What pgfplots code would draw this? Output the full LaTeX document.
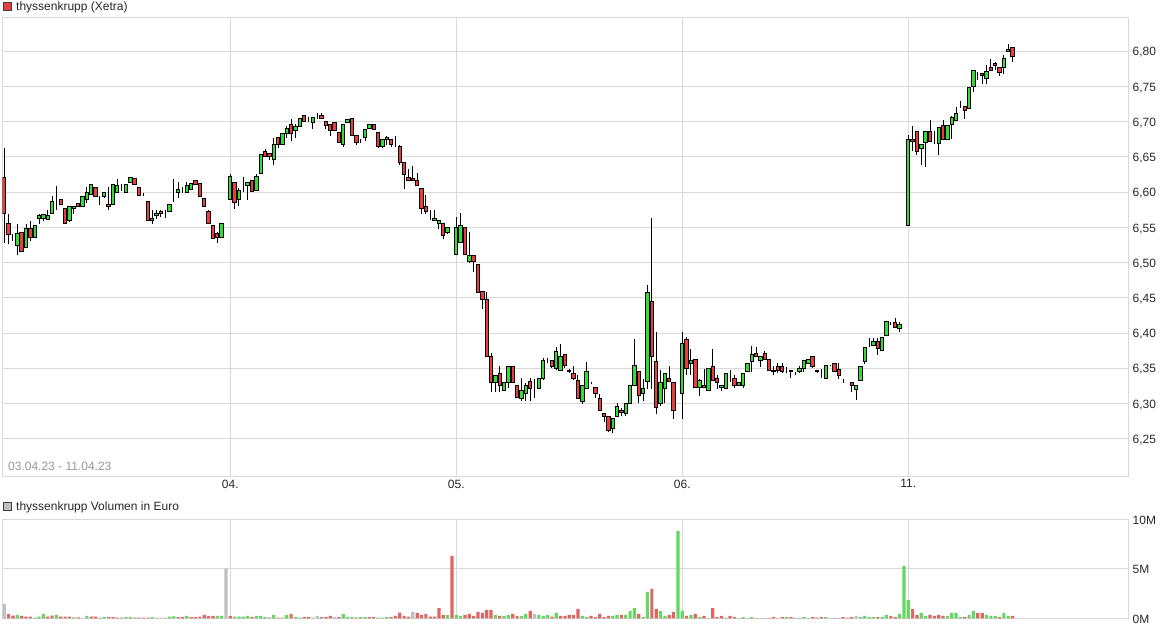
\documentclass[border=0pt]{standalone}
\usepackage{pgfplots}
\pgfplotsset{compat=1.18}
\usepackage{pgfplotstable}
\usepackage{fontspec}
\setmainfont{Liberation Sans}

\definecolor{cgreen}{RGB}{52,221,52}
\definecolor{cred}{RGB}{234,62,62}
\definecolor{vgreen}{RGB}{102,214,102}
\definecolor{vred}{RGB}{221,102,102}
\definecolor{vgray}{RGB}{192,192,192}
\definecolor{gridgray}{RGB}{217,217,217}
\definecolor{labelgray}{RGB}{40,40,40}
\definecolor{dategray}{RGB}{150,150,150}

% 10-minute candles, 52 per day (incl. closing auction)
\pgfplotstableread{
i O H L C
0 6.621 6.662 6.528 6.569
1 6.555 6.569 6.526 6.540
2 6.534 6.541 6.531 6.534
3 6.524 6.555 6.510 6.541
4 6.543 6.543 6.516 6.516
5 6.521 6.555 6.521 6.548
6 6.548 6.559 6.531 6.535
7 6.536 6.553 6.536 6.553
8 6.563 6.569 6.555 6.566
9 6.563 6.568 6.559 6.568
10 6.561 6.574 6.561 6.566
11 6.569 6.594 6.569 6.586
12 6.591 6.609 6.574 6.591
13 6.590 6.590 6.583 6.583
14 6.576 6.576 6.555 6.556
15 6.559 6.580 6.557 6.580
16 6.576 6.579 6.569 6.579
17 6.584 6.584 6.579 6.579
18 6.580 6.595 6.580 6.593
19 6.590 6.607 6.584 6.599
20 6.596 6.612 6.596 6.610
21 6.606 6.606 6.593 6.593
22 6.594 6.595 6.582 6.594
23 6.594 6.600 6.591 6.599
24 6.583 6.607 6.574 6.579
25 6.583 6.611 6.583 6.611
26 6.600 6.618 6.600 6.609
27 6.607 6.612 6.602 6.607
28 6.600 6.610 6.600 6.610
29 6.614 6.620 6.614 6.620
30 6.619 6.619 6.610 6.610
31 6.606 6.606 6.595 6.595
32 6.595 6.598 6.594 6.595
33 6.586 6.586 6.560 6.560
34 6.559 6.574 6.554 6.563
35 6.566 6.574 6.562 6.569
36 6.573 6.574 6.564 6.569
37 6.570 6.574 6.563 6.570
38 6.572 6.582 6.572 6.582
39 6.588 6.619 6.586 6.588
40 6.600 6.614 6.591 6.604
41 6.601 6.607 6.598 6.601
42 6.599 6.614 6.599 6.609
43 6.604 6.612 6.604 6.612
44 6.616 6.616 6.611 6.611
45 6.612 6.612 6.593 6.593
46 6.591 6.591 6.579 6.579
47 6.573 6.575 6.555 6.555
48 6.553 6.553 6.534 6.534
49 6.541 6.544 6.528 6.536
50 6.536 6.556 6.536 6.556
51 6.556 6.556 6.556 6.556
52 6.589 6.626 6.589 6.622
53 6.613 6.613 6.576 6.585
54 6.589 6.606 6.580 6.602
55 6.607 6.622 6.600 6.607
56 6.609 6.613 6.589 6.613
57 6.617 6.617 6.601 6.601
58 6.602 6.626 6.602 6.622
59 6.627 6.653 6.627 6.653
60 6.657 6.661 6.651 6.651
61 6.655 6.655 6.646 6.651
62 6.646 6.677 6.638 6.668
63 6.677 6.677 6.662 6.667
64 6.668 6.683 6.668 6.683
65 6.683 6.694 6.677 6.690
66 6.696 6.704 6.673 6.683
67 6.687 6.696 6.677 6.693
68 6.693 6.704 6.693 6.704
69 6.709 6.709 6.700 6.700
70 6.699 6.706 6.699 6.699
71 6.699 6.706 6.690 6.706
72 6.706 6.712 6.704 6.706
73 6.709 6.712 6.704 6.704
74 6.700 6.700 6.690 6.694
75 6.696 6.696 6.680 6.687
76 6.699 6.699 6.687 6.687
77 6.684 6.684 6.671 6.671
78 6.667 6.696 6.664 6.696
79 6.699 6.703 6.699 6.703
80 6.704 6.704 6.680 6.680
81 6.680 6.680 6.667 6.671
82 6.672 6.675 6.669 6.672
83 6.677 6.689 6.673 6.689
84 6.690 6.696 6.690 6.696
85 6.696 6.696 6.689 6.689
86 6.684 6.684 6.663 6.664
87 6.664 6.674 6.663 6.674
88 6.674 6.680 6.667 6.677
89 6.674 6.674 6.664 6.668
90 6.667 6.680 6.664 6.667
91 6.664 6.667 6.638 6.642
92 6.642 6.642 6.605 6.625
93 6.621 6.633 6.617 6.617
94 6.619 6.637 6.615 6.617
95 6.617 6.627 6.609 6.609
96 6.605 6.605 6.569 6.576
97 6.579 6.596 6.569 6.573
98 6.566 6.574 6.560 6.566
99 6.560 6.574 6.560 6.563
100 6.556 6.560 6.548 6.560
101 6.556 6.556 6.534 6.538
102 6.543 6.549 6.540 6.549
103 6.514 6.514 6.514 6.514
104 6.512 6.564 6.510 6.550
105 6.529 6.570 6.527 6.552
106 6.549 6.549 6.511 6.511
107 6.501 6.544 6.499 6.510
108 6.510 6.510 6.486 6.501
109 6.497 6.497 6.458 6.458
110 6.459 6.459 6.434 6.448
111 6.448 6.458 6.367 6.367
112 6.367 6.372 6.316 6.329
113 6.329 6.340 6.316 6.340
114 6.343 6.353 6.316 6.325
115 6.318 6.329 6.318 6.329
116 6.329 6.352 6.322 6.352
117 6.352 6.352 6.329 6.329
118 6.325 6.325 6.308 6.308
119 6.307 6.336 6.303 6.318
120 6.314 6.329 6.303 6.325
121 6.331 6.336 6.303 6.321
122 6.321 6.335 6.308 6.321
123 6.321 6.336 6.321 6.336
124 6.335 6.364 6.333 6.361
125 6.363 6.364 6.357 6.363
126 6.361 6.361 6.350 6.353
127 6.349 6.380 6.347 6.373
128 6.347 6.384 6.346 6.366
129 6.370 6.370 6.350 6.354
130 6.347 6.349 6.343 6.345
131 6.343 6.353 6.333 6.336
132 6.333 6.340 6.307 6.307
133 6.303 6.326 6.299 6.326
134 6.321 6.359 6.321 6.345
135 6.331 6.331 6.327 6.331
136 6.322 6.322 6.308 6.314
137 6.307 6.314 6.290 6.290
138 6.286 6.286 6.273 6.282
139 6.282 6.282 6.259 6.261
140 6.264 6.278 6.258 6.278
141 6.282 6.300 6.282 6.296
142 6.290 6.293 6.282 6.287
143 6.285 6.300 6.282 6.300
144 6.300 6.325 6.300 6.325
145 6.326 6.391 6.326 6.354
146 6.345 6.345 6.300 6.311
147 6.314 6.335 6.303 6.321
148 6.331 6.468 6.321 6.458
149 6.445 6.563 6.321 6.366
150 6.359 6.402 6.285 6.294
151 6.300 6.347 6.296 6.329
152 6.321 6.343 6.300 6.343
153 6.336 6.353 6.331 6.331
154 6.329 6.329 6.278 6.290
155 6.300 6.300 6.300 6.300
156 6.314 6.402 6.278 6.385
157 6.391 6.394 6.340 6.349
158 6.357 6.377 6.340 6.361
159 6.363 6.363 6.322 6.322
160 6.322 6.335 6.311 6.333
161 6.322 6.349 6.322 6.326
162 6.318 6.349 6.318 6.349
163 6.352 6.377 6.333 6.333
164 6.336 6.340 6.321 6.329
165 6.322 6.325 6.317 6.325
166 6.321 6.343 6.321 6.343
167 6.340 6.347 6.331 6.340
168 6.336 6.340 6.322 6.325
169 6.326 6.331 6.325 6.329
170 6.326 6.343 6.322 6.343
171 6.345 6.357 6.345 6.357
172 6.359 6.381 6.345 6.370
173 6.371 6.380 6.367 6.367
174 6.361 6.367 6.352 6.367
175 6.371 6.375 6.363 6.363
176 6.363 6.363 6.347 6.347
177 6.347 6.353 6.340 6.345
178 6.353 6.358 6.343 6.347
179 6.352 6.358 6.343 6.345
180 6.348 6.352 6.343 6.348
181 6.345 6.347 6.336 6.347
182 6.344 6.345 6.340 6.344
183 6.345 6.353 6.343 6.349
184 6.349 6.361 6.345 6.361
185 6.357 6.363 6.357 6.363
186 6.366 6.366 6.350 6.352
187 6.347 6.347 6.343 6.345
188 6.340 6.349 6.336 6.340
189 6.336 6.354 6.335 6.354
190 6.354 6.355 6.353 6.354
191 6.356 6.357 6.346 6.346
192 6.348 6.358 6.335 6.339
193 6.333 6.335 6.329 6.333
194 6.329 6.329 6.329 6.329
195 6.329 6.329 6.316 6.325
196 6.320 6.325 6.305 6.325
197 6.332 6.353 6.332 6.353
198 6.360 6.379 6.356 6.379
199 6.382 6.393 6.380 6.382
200 6.382 6.393 6.382 6.388
201 6.388 6.393 6.369 6.378
202 6.375 6.393 6.375 6.393
203 6.396 6.416 6.396 6.416
204 6.414 6.416 6.412 6.414
205 6.415 6.421 6.407 6.408
206 6.406 6.416 6.402 6.412
207 6.425 6.425 6.425 6.425
208 6.552 6.681 6.552 6.675
209 6.675 6.694 6.658 6.672
210 6.686 6.686 6.653 6.658
211 6.662 6.668 6.638 6.668
212 6.670 6.686 6.635 6.686
213 6.686 6.702 6.672 6.672
214 6.670 6.686 6.668 6.670
215 6.669 6.691 6.652 6.691
216 6.694 6.702 6.675 6.675
217 6.674 6.694 6.674 6.694
218 6.696 6.708 6.675 6.706
219 6.702 6.721 6.702 6.711
220 6.721 6.729 6.719 6.721
221 6.721 6.721 6.704 6.716
222 6.718 6.748 6.718 6.748
223 6.750 6.773 6.742 6.773
224 6.771 6.771 6.759 6.771
225 6.768 6.768 6.754 6.765
226 6.761 6.781 6.754 6.771
227 6.777 6.789 6.773 6.773
228 6.782 6.785 6.773 6.779
229 6.777 6.777 6.765 6.769
230 6.777 6.795 6.767 6.789
231 6.799 6.810 6.799 6.803
232 6.805 6.805 6.784 6.793
}\candles

% volume in million euro; c: 0 up, 1 down, 2 unchanged
\pgfplotstableread{
i v c
0 1.45 2
1 0.44 1
2 0.27 1
3 0.34 0
4 0.24 1
5 0.17 1
6 0.17 1
7 0.07 0
8 0.17 0
9 0.44 0
10 0.17 1
11 0.27 1
12 0.34 0
13 0.17 1
14 0.17 1
15 0.17 1
16 0.10 0
17 0.10 1
18 0.03 2
19 0.24 0
20 0.17 1
21 0.17 1
22 0.07 0
23 0.13 0
24 0.13 1
25 0.13 1
26 0.07 1
27 0.07 1
28 0.13 0
29 0.13 0
30 0.07 1
31 0.07 1
32 0.07 1
33 0.07 1
34 0.13 0
35 0.07 2
36 0.07 2
37 0.07 2
38 0.17 0
39 0.20 0
40 0.13 1
41 0.13 1
42 0.24 0
43 0.13 1
44 0.13 1
45 0.17 1
46 0.34 1
47 0.24 1
48 0.24 1
49 0.24 0
50 0.24 0
51 5.02 2
52 0.24 1
53 0.17 0
54 0.17 0
55 0.17 0
56 0.24 0
57 0.13 1
58 0.24 0
59 0.24 0
60 0.13 0
61 0.13 2
62 0.34 0
63 0.07 1
64 0.07 0
65 0.34 0
66 0.44 1
67 0.13 0
68 0.07 0
69 0.13 1
70 0.13 1
71 0.07 0
72 0.24 2
73 0.13 1
74 0.13 1
75 0.24 1
76 0.13 2
77 0.13 1
78 0.44 0
79 0.13 0
80 0.13 0
81 0.07 1
82 0.13 0
83 0.13 0
84 0.13 1
85 0.13 1
86 0.07 0
87 0.07 0
88 0.13 0
89 0.13 1
90 0.24 1
91 0.57 1
92 0.24 1
93 0.17 1
94 0.64 2
95 0.54 1
96 0.34 1
97 0.44 1
98 0.17 1
99 0.17 1
100 1.04 1
101 0.34 1
102 0.34 0
103 6.30 1
104 0.34 0
105 0.24 0
106 0.34 1
107 0.44 1
108 0.24 1
109 0.64 1
110 0.54 1
111 0.84 1
112 0.84 1
113 0.34 0
114 0.24 1
115 0.24 0
116 0.34 0
117 0.44 1
118 0.24 1
119 0.24 0
120 0.44 0
121 0.74 1
122 0.44 2
123 0.34 0
124 0.24 0
125 0.34 0
126 0.17 1
127 0.54 0
128 0.24 1
129 0.24 1
130 0.34 1
131 0.34 1
132 0.94 1
133 0.24 0
134 0.13 0
135 0.24 1
136 0.13 1
137 0.44 1
138 0.13 1
139 0.24 1
140 0.24 0
141 0.34 0
142 0.34 1
143 0.34 0
144 0.74 0
145 1.04 0
146 0.44 1
147 0.13 0
148 2.66 0
149 2.96 1
150 0.94 1
151 0.74 0
152 0.24 0
153 0.34 1
154 0.64 1
155 8.82 0
156 0.74 0
157 0.24 1
158 0.34 0
159 0.44 1
160 0.13 0
161 0.24 1
162 0.03 0
163 1.04 1
164 0.13 1
165 0.24 1
166 0.07 0
167 0.24 1
168 0.13 1
169 0.03 0
170 0.13 0
171 0.03 0
172 0.13 0
173 0.03 1
174 0.03 2
175 0.03 1
176 0.03 1
177 0.13 1
178 0.03 0
179 0.13 1
180 0.13 0
181 0.13 1
182 0.03 1
183 0.03 0
184 0.13 0
185 0.03 0
186 0.13 1
187 0.07 1
188 0.13 1
189 0.13 0
190 0.03 2
191 0.03 1
192 0.03 1
193 0.13 1
194 0.07 1
195 0.13 1
196 0.24 2
197 0.13 0
198 0.24 0
199 0.13 0
200 0.13 0
201 0.13 1
202 0.13 0
203 0.34 0
204 0.24 1
205 0.13 1
206 0.44 0
207 5.29 0
208 1.85 0
209 0.94 1
210 0.34 1
211 0.54 0
212 0.24 0
213 0.34 1
214 0.24 1
215 0.34 1
216 0.24 1
217 0.24 0
218 0.54 0
219 0.54 0
220 0.13 0
221 0.13 1
222 0.34 0
223 0.74 0
224 0.54 1
225 0.54 1
226 0.34 0
227 0.24 0
228 0.24 0
229 0.13 1
230 0.54 0
231 0.24 0
232 0.24 1
}\volume

\pgfplotsset{
  panel/.style={
    scale only axis, anchor=south west,
    width=1125.3pt,
    xmin=-0.368, xmax=258.56,
    xtick={52,104,156,208},
    grid=major,
    major grid style={draw=gridgray, line width=0.9pt},
    axis line style={draw=gridgray, line width=0.9pt},
    tick style={draw=none},
    major tick length=0pt,
    yticklabel pos=right,
    tick label style={font=\fontsize{12}{14}\selectfont, text=labelgray, inner sep=0pt},
    yticklabel style={anchor=base west, xshift=4.5pt, yshift=-4.8pt},
    xticklabel style={anchor=north, yshift=-3.5pt},
  },
}

\begin{document}
\begin{tikzpicture}[font=\fontsize{12}{14}\selectfont]
\path[use as bounding box] (0,0) rectangle (1175pt,630pt);

% price panel: frame, grid and wicks
\begin{axis}[panel,
  at={(2.7pt,154pt)}, height=458.7pt,
  ymin=6.197, ymax=6.848,
  ytick={6.25,6.30,6.35,6.40,6.45,6.50,6.55,6.60,6.65,6.70,6.75,6.80},
  yticklabel style={/pgf/number format/fixed, /pgf/number format/fixed zerofill,
    /pgf/number format/precision=2, /pgf/number format/use comma,
    /pgf/number format/assume math mode=true},
  xticklabels={04.,05.,06.,11.},
]
\addplot[black, only marks, mark=*, mark size=0pt, mark options={draw=none, fill=none},
  error bars/.cd, y dir=plus, y explicit, error mark=none,
  error bar style={draw=black, line width=1pt}]
  table[x=i, y=L, y error plus expr=\thisrow{H}-\thisrow{L}] {\candles};
\end{axis}

% price panel: candle bodies
\begin{axis}[
  scale only axis, anchor=south west,
  at={(2.7pt,154pt)}, width=1125.3pt, height=458.7pt,
  xmin=-0.368, xmax=258.56, ymin=6.197, ymax=6.848,
  hide axis, ybar stacked, bar width=3.4pt,
]
\addplot[draw=none, fill=none] table[x=i, y expr={min(\thisrow{O},\thisrow{C})}] {\candles};
\addplot[draw=black, fill=cgreen, line width=1pt] table[x=i, y expr={max(\thisrow{C}-\thisrow{O},0)}] {\candles};
\addplot[draw=black, fill=cred, line width=1pt] table[x=i, y expr={max(\thisrow{O}-\thisrow{C},0)}] {\candles};
\end{axis}

% volume panel
\begin{axis}[panel,
  at={(2.7pt,11.7pt)}, height=99pt,
  ymin=0, ymax=10,
  ytick={0,5,10}, yticklabels={0M,5M,10M},
  xticklabels={},
  ybar, bar width=3.2pt, bar shift=0pt,
]
\addplot[draw=none, fill=vgreen] table[x=i, y expr={\thisrow{v}*(\thisrow{c}==0)}] {\volume};
\addplot[draw=none, fill=vred] table[x=i, y expr={\thisrow{v}*(\thisrow{c}==1)}] {\volume};
\addplot[draw=none, fill=vgray] table[x=i, y expr={\thisrow{v}*(\thisrow{c}==2)}] {\volume};
\end{axis}

% panel titles
\filldraw[fill=cred, draw=black!75, line width=0.8pt] (2.9pt,619.3pt) rectangle (10.9pt,627.3pt);
\node[anchor=base west, inner sep=0pt, text=labelgray] at (16pt,619pt) {thyssenkrupp (Xetra)};
\filldraw[fill=vgray, draw=black!75, line width=0.8pt] (2.9pt,119.3pt) rectangle (10.9pt,127.3pt);
\node[anchor=base west, inner sep=0pt, text=labelgray] at (16pt,119.3pt) {thyssenkrupp Volumen in Euro};
\node[anchor=base west, inner sep=0pt, text=dategray] at (8pt,160pt) {03.04.23 - 11.04.23};
\end{tikzpicture}
\end{document}
